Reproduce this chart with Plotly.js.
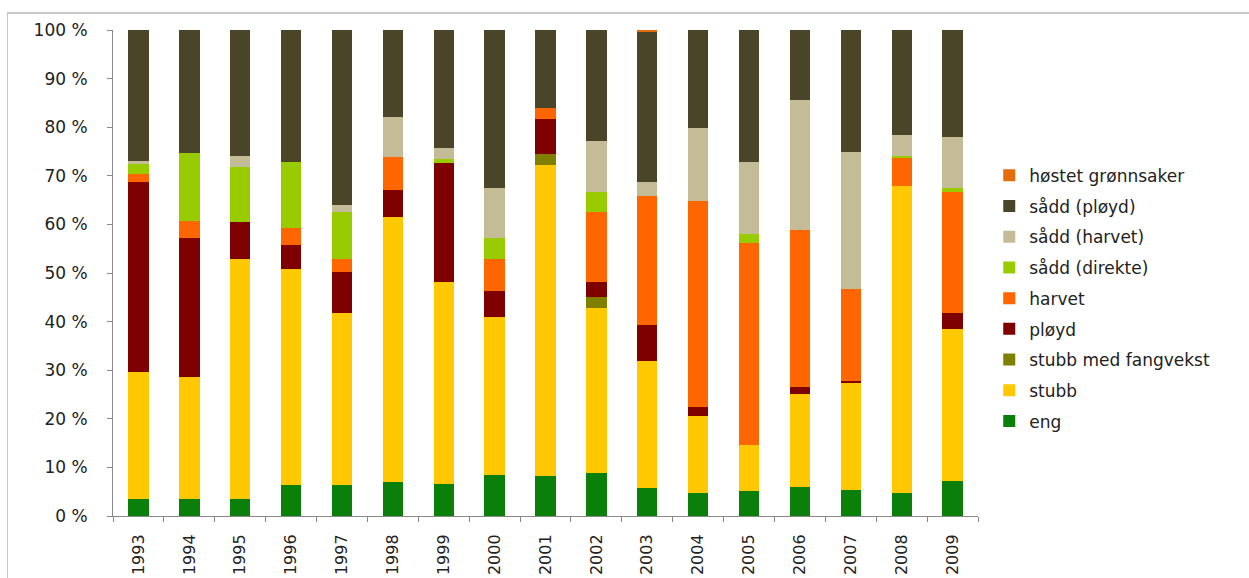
<!DOCTYPE html>
<html>
<head>
<meta charset="utf-8">
<script src="https://cdn.plot.ly/plotly-3.0.1.min.js"></script>
<style>
html,body{margin:0;padding:0;background:#fff;}
#frame{position:absolute;left:7px;top:12px;width:1242px;height:566px;border-top:2px solid #c8c8c8;border-left:1px solid #c8c8c8;box-sizing:border-box;pointer-events:none;z-index:5;}
#chart{width:1249px;height:578px;}
</style>
</head>
<body>
<div id="frame"></div>
<div id="chart"></div>
<script>
var years = ["1993","1994","1995","1996","1997","1998","1999","2000","2001","2002","2003","2004","2005","2006","2007","2008","2009"];
var eng          = [3.6, 3.6, 3.4, 6.4, 6.4, 6.9, 6.6, 8.4, 8.2, 8.9, 5.7, 4.8, 5.1, 6.0, 5.4, 4.8, 7.1];
var stubb        = [26.0,24.9,49.5,44.4,35.3,54.7,41.6,32.5,64.1,34.0,26.1,15.8, 9.5,19.2,21.9,63.0,31.3];
var stubbFang    = [0,   0,   0,   0,   0,   0,   0,   0,   2.1, 2.2, 0,   0,   0,   0,   0,   0,   0  ];
var ployd        = [39.2,28.6, 7.5, 5.0, 8.5, 5.5,24.5, 5.5, 7.3, 3.1, 7.6, 1.8, 0,   1.4, 0.5, 0,   3.3];
var harvet       = [1.5, 3.6, 0,   3.5, 2.7, 6.8, 0,   6.5, 2.3,14.3,26.4,42.4,41.6,32.2,18.9, 5.8,25.0];
var saddDirekte  = [2.1,13.9,11.5,13.6, 9.6, 0,   0.7, 4.4, 0,   4.2, 0,   0,   1.8, 0,   0,   0.5, 0.7];
var saddHarvet   = [0.7, 0,   2.2, 0,   1.4, 8.1, 2.3,10.1, 0,  10.5, 2.9,15.1,14.9,26.7,28.1, 4.3,10.5];
var saddPloyd    = [26.9,25.4,25.9,27.1,36.1,18.0,24.3,32.6,16.0,22.8,30.9,20.1,27.1,14.5,25.2,21.6,22.1];
var hostet       = [0,   0,   0,   0,   0,   0,   0,   0,   0,   0,   0.4, 0,   0,   0,   0,   0,   0  ];

var seriesNames = ["eng","stubb","stubb med fangvekst","pløyd","harvet","sådd (direkte)","sådd (harvet)","sådd (pløyd)","høstet grønnsaker"];
var seriesData  = [eng, stubb, stubbFang, ployd, harvet, saddDirekte, saddHarvet, saddPloyd, hostet];
var colors = ["#0a7f0a","#ffc800","#7f7f00","#7f0000","#ff6600","#99cc00","#c4bc96","#4a4429","#e46c0a"];

var traces = seriesNames.map(function(n,i){
  return {type:"bar", name:n, x:years, y:seriesData[i], marker:{color:colors[i], line:{width:0}},
          legendgroup:"g"+i, legendrank:1000-i, hoverinfo:"name+y"};
});

var font = "DejaVu Sans, Liberation Sans, Arial, sans-serif";
var layout = {
  width:1249, height:578,
  margin:{l:113, r:271, t:30, b:62},
  barmode:"stack", bargap:0.6,
  paper_bgcolor:"rgba(0,0,0,0)", plot_bgcolor:"#fff",
  font:{family:font, size:15, color:"#222"},
  xaxis:{type:"category", tickson:"boundaries", ticks:"outside", ticklen:5, tickcolor:"#888",
         showline:true, linecolor:"#888", linewidth:1, tickangle:-90, ticklabelstandoff:11,
         tickfont:{size:16, family:font, color:"#222"}, showgrid:false, zeroline:false},
  yaxis:{range:[0,100], tickvals:[0,10,20,30,40,50,60,70,80,90,100],
         ticktext:["0 %","10 %","20 %","30 %","40 %","50 %","60 %","70 %","80 %","90 %","100 %"],
         ticks:"outside", ticklen:5, tickcolor:"#888", showline:true, linecolor:"#888", linewidth:1,
         showgrid:false, zeroline:false, ticklabelstandoff:16,
         tickfont:{size:17, family:font, color:"#222"}},
  legend:{x:1.013, xanchor:"left", y:0.737, yanchor:"top", traceorder:"grouped",
          tracegroupgap:5.6, font:{size:17, family:font, color:"#222"}, bgcolor:"rgba(0,0,0,0)"},
  showlegend:true
};
Plotly.newPlot("chart", traces, layout, {displayModeBar:false, staticPlot:true});
</script>
</body>
</html>
